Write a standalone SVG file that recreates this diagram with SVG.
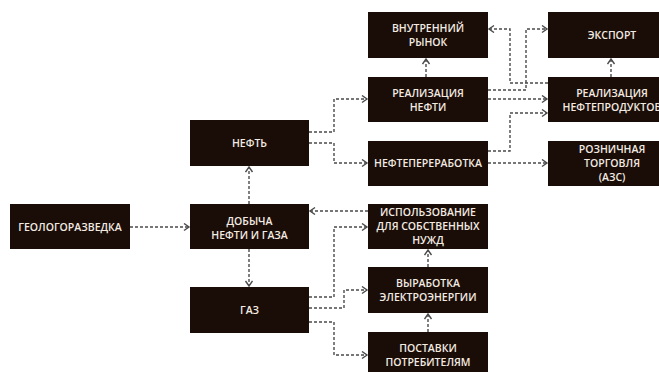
<svg xmlns="http://www.w3.org/2000/svg" width="659" height="372" viewBox="0 0 659 372">
<defs>
<style>
.box{fill:#1a0d07}
.t{font-family:"Open Sans","Noto Sans",sans-serif;font-weight:600;font-size:10.5px;fill:#f3ebe2;text-anchor:middle}
.c{fill:none;stroke:#4a4a4a;stroke-width:1.4;stroke-dasharray:3,2}
</style>
<marker id="a" markerUnits="userSpaceOnUse" markerWidth="10" markerHeight="10" refX="6" refY="4" orient="auto">
<path d="M1,0.5 L6,4 L1,7.5" fill="none" stroke="#4a4a4a" stroke-width="1.4"/>
</marker>
</defs>
<rect width="659" height="372" fill="#ffffff"/>
<g id="connectors">
<path class="c" d="M130,227 H189" marker-end="url(#a)"/>
<path class="c" d="M249,204 V167" marker-end="url(#a)"/>
<path class="c" d="M249,249 V286" marker-end="url(#a)"/>
<path class="c" d="M368,211 H310" marker-end="url(#a)"/>
<path class="c" d="M309,132 H334 V99 H367" marker-end="url(#a)"/>
<path class="c" d="M309,143 H334 V163 H367" marker-end="url(#a)"/>
<path class="c" d="M426,77 V59" marker-end="url(#a)"/>
<path class="c" d="M611,77 V59" marker-end="url(#a)"/>
<path class="c" d="M488,90 H526 V29 H547" marker-end="url(#a)"/>
<path class="c" d="M548,83 H510 V29 H489" marker-end="url(#a)"/>
<path class="c" d="M488,99 H547" marker-end="url(#a)"/>
<path class="c" d="M488,151 H510 V113 H547" marker-end="url(#a)"/>
<path class="c" d="M488,163 H547" marker-end="url(#a)"/>
<path class="c" d="M309,297 H334 V227 H367" marker-end="url(#a)"/>
<path class="c" d="M309,308 H344 V290 H367" marker-end="url(#a)"/>
<path class="c" d="M309,322 H334 V355 H367" marker-end="url(#a)"/>
<path class="c" d="M428,267 V250" marker-end="url(#a)"/>
<path class="c" d="M428,332 V314" marker-end="url(#a)"/>
</g>
<g id="geo"><rect class="box" x="10" y="204" width="120" height="45"/><text class="t" x="70" y="231">ГЕОЛОГОРАЗВЕДКА</text></g>
<g id="dobycha"><rect class="box" x="190" y="204" width="119" height="45"/><text class="t" x="249.5" y="225">ДОБЫЧА</text><text class="t" x="249.5" y="239">НЕФТИ И ГАЗА</text></g>
<g id="neft"><rect class="box" x="190" y="120" width="119" height="46"/><text class="t" x="249.5" y="147">НЕФТЬ</text></g>
<g id="gaz"><rect class="box" x="190" y="287" width="119" height="46"/><text class="t" x="249.5" y="314">ГАЗ</text></g>
<g id="vnutr"><rect class="box" x="368" y="12" width="120" height="46"/><text class="t" x="428" y="32">ВНУТРЕННИЙ</text><text class="t" x="428" y="46">РЫНОК</text></g>
<g id="realneft"><rect class="box" x="368" y="77" width="120" height="45"/><text class="t" x="428" y="97">РЕАЛИЗАЦИЯ</text><text class="t" x="428" y="111">НЕФТИ</text></g>
<g id="pererab"><rect class="box" x="368" y="141" width="120" height="45"/><text class="t" x="428" y="167">НЕФТЕПЕРЕРАБОТКА</text></g>
<g id="export"><rect class="box" x="548" y="12" width="124" height="46"/><text class="t" x="612" y="39">ЭКСПОРТ</text></g>
<g id="realnp"><rect class="box" x="548" y="77" width="124" height="45"/><text class="t" x="612" y="97">РЕАЛИЗАЦИЯ</text><text class="t" x="612" y="111">НЕФТЕПРОДУКТОВ</text></g>
<g id="rozn"><rect class="box" x="548" y="141" width="124" height="45"/><text class="t" x="612" y="153">РОЗНИЧНАЯ</text><text class="t" x="612" y="167">ТОРГОВЛЯ</text><text class="t" x="612" y="181">(АЗС)</text></g>
<g id="ispolz"><rect class="box" x="368" y="204" width="120" height="45"/><text class="t" x="428" y="216">ИСПОЛЬЗОВАНИЕ</text><text class="t" x="428" y="230">ДЛЯ СОБСТВЕННЫХ</text><text class="t" x="428" y="244">НУЖД</text></g>
<g id="vyrab"><rect class="box" x="368" y="267" width="120" height="46"/><text class="t" x="428" y="287">ВЫРАБОТКА</text><text class="t" x="428" y="301">ЭЛЕКТРОЭНЕРГИИ</text></g>
<g id="postavki"><rect class="box" x="368" y="332" width="120" height="45"/><text class="t" x="428" y="352">ПОСТАВКИ</text><text class="t" x="428" y="366">ПОТРЕБИТЕЛЯМ</text></g>
</svg>
